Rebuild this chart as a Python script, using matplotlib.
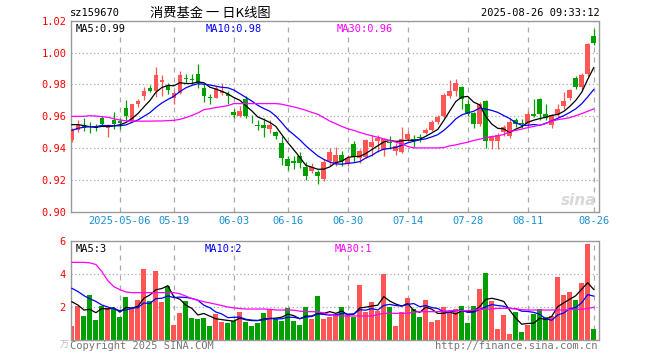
import matplotlib
matplotlib.use('Agg')
import matplotlib.pyplot as plt
import numpy as np

# daily K line of sz159670, 2025-04-21 .. 2025-08-26
opens = [0.945, 0.9516, 0.9543, 0.953, 0.954, 0.959, 0.953, 0.958, 0.957, 0.965,
         0.957, 0.968, 0.9728, 0.978, 0.976, 0.9817, 0.9796, 0.9712, 0.9747, 0.9838,
         0.9835, 0.9865, 0.978, 0.9722, 0.9718, 0.9745, 0.974, 0.963, 0.960, 0.971,
         0.9603, 0.9545, 0.9543, 0.9522, 0.950, 0.943, 0.9333, 0.9318, 0.9354, 0.928,
         0.9255, 0.9254, 0.9207, 0.9318, 0.9305, 0.936, 0.930, 0.9428, 0.934, 0.9347,
         0.941, 0.9444, 0.939, 0.944, 0.938, 0.9375, 0.9459, 0.9455, 0.9472, 0.9495,
         0.9512, 0.9564, 0.960, 0.9726, 0.976, 0.9785, 0.9676, 0.962, 0.955, 0.9697,
         0.9444, 0.9444, 0.950, 0.9474, 0.958, 0.9557, 0.955, 0.9617, 0.9706, 0.9613,
         0.9543, 0.9606, 0.9663, 0.9712, 0.9838, 0.9785, 0.9865, 1.0105]
highs = [0.953, 0.958, 0.959, 0.9564, 0.955, 0.960, 0.955, 0.963, 0.959, 0.970,
         0.968, 0.971, 0.9785, 0.9795, 0.991, 0.986, 0.981, 0.976, 0.9886, 0.9865,
         0.9865, 0.993, 0.980, 0.9743, 0.979, 0.981, 0.976, 0.9645, 0.9663, 0.973,
         0.961, 0.9575, 0.959, 0.9575, 0.951, 0.9474, 0.9354, 0.9354, 0.9375, 0.9311,
         0.931, 0.9263, 0.9335, 0.940, 0.941, 0.938, 0.9355, 0.9443, 0.9395, 0.946,
         0.948, 0.948, 0.9466, 0.9475, 0.943, 0.9533, 0.951, 0.9486, 0.949, 0.953,
         0.958, 0.961, 0.9745, 0.9827, 0.9835, 0.979, 0.970, 0.963, 0.969, 0.970,
         0.948, 0.9496, 0.9545, 0.9592, 0.9592, 0.9585, 0.9634, 0.9706, 0.9712, 0.968,
         0.9615, 0.9675, 0.9754, 0.977, 0.985, 0.987, 1.0063, 1.0148]
lows = [0.944, 0.950, 0.951, 0.9495, 0.951, 0.954, 0.947, 0.952, 0.952, 0.9575,
        0.957, 0.966, 0.970, 0.9755, 0.972, 0.973, 0.974, 0.9676, 0.9743, 0.9807,
        0.980, 0.9775, 0.969, 0.9676, 0.9712, 0.9733, 0.968, 0.959, 0.9594, 0.959,
        0.9557, 0.9516, 0.947, 0.9495, 0.9455, 0.9297, 0.9263, 0.927, 0.9276, 0.920,
        0.9245, 0.9175, 0.9196, 0.929, 0.929, 0.929, 0.929, 0.9315, 0.931, 0.934,
        0.9354, 0.9375, 0.935, 0.9395, 0.9355, 0.9368, 0.9445, 0.941, 0.944, 0.949,
        0.951, 0.955, 0.959, 0.9715, 0.973, 0.9643, 0.960, 0.953, 0.954, 0.940,
        0.9396, 0.9396, 0.9475, 0.9462, 0.9533, 0.9527, 0.9535, 0.9595, 0.958, 0.9575,
        0.9527, 0.9595, 0.9649, 0.970, 0.977, 0.976, 0.985, 1.005]
closes = [0.952, 0.9548, 0.953, 0.9525, 0.953, 0.955, 0.9545, 0.955, 0.956, 0.960,
          0.9676, 0.9697, 0.976, 0.976, 0.986, 0.9827, 0.9764, 0.9747, 0.9859, 0.9832,
          0.983, 0.981, 0.9726, 0.9715, 0.9775, 0.976, 0.973, 0.961, 0.9632, 0.960,
          0.960, 0.954, 0.9526, 0.9543, 0.9474, 0.934, 0.929, 0.9305, 0.9305, 0.9227,
          0.928, 0.9223, 0.9311, 0.9375, 0.936, 0.9322, 0.934, 0.9343, 0.938, 0.9449,
          0.9442, 0.9466, 0.9459, 0.943, 0.9417, 0.9459, 0.949, 0.945, 0.9462, 0.9516,
          0.9564, 0.9596, 0.9733, 0.976, 0.981, 0.9706, 0.9617, 0.955, 0.9676, 0.9444,
          0.9474, 0.948, 0.9533, 0.9564, 0.955, 0.9549, 0.9617, 0.960, 0.9613, 0.9592,
          0.9606, 0.9649, 0.9697, 0.9764, 0.9785, 0.9859, 1.0055, 1.006]

ma5 = [0.9548, 0.9548, 0.9542, 0.9535, 0.9531, 0.9537, 0.9536, 0.954, 0.9547, 0.9561,
       0.9586, 0.9617, 0.9659, 0.9699, 0.9751, 0.9781, 0.9794, 0.9792, 0.9811, 0.9806,
       0.9806, 0.9816, 0.9811, 0.9783, 0.9771, 0.9757, 0.9741, 0.9718, 0.9701, 0.9666,
       0.9634, 0.9596, 0.958, 0.9562, 0.9537, 0.9485, 0.9435, 0.939, 0.9343, 0.9293,
       0.9281, 0.9268, 0.9269, 0.9283, 0.931, 0.9318, 0.9342, 0.9348, 0.9349, 0.9367,
       0.9391, 0.9416, 0.9439, 0.9449, 0.9443, 0.9446, 0.9451, 0.9449, 0.9456, 0.9475,
       0.9496, 0.9518, 0.9574, 0.9634, 0.9693, 0.9721, 0.9725, 0.9689, 0.9672, 0.9599,
       0.9552, 0.9525, 0.9521, 0.9499, 0.952, 0.9535, 0.9563, 0.9576, 0.9586, 0.9594,
       0.9606, 0.9612, 0.9631, 0.9662, 0.970, 0.9751, 0.9832, 0.9905]
ma10 = [0.9512, 0.9525, 0.9532, 0.9535, 0.9535, 0.9543, 0.9542, 0.9541, 0.9541, 0.9546,
        0.9562, 0.9577, 0.960, 0.9623, 0.9656, 0.9684, 0.9706, 0.9726, 0.9755, 0.9779,
        0.9794, 0.9805, 0.9802, 0.9797, 0.9789, 0.9782, 0.9779, 0.9765, 0.9742, 0.9719,
        0.9696, 0.9669, 0.9649, 0.9632, 0.9602, 0.956, 0.9516, 0.9485, 0.9453, 0.9415,
        0.9383, 0.9352, 0.933, 0.9313, 0.9302, 0.930, 0.9305, 0.9309, 0.9316, 0.9339,
        0.9355, 0.9379, 0.9394, 0.9399, 0.9405, 0.9419, 0.9434, 0.9444, 0.9453, 0.9459,
        0.9471, 0.9485, 0.9512, 0.9545, 0.9584, 0.9609, 0.9622, 0.9632, 0.9653, 0.9646,
        0.9637, 0.9625, 0.9605, 0.9586, 0.956, 0.9544, 0.9544, 0.9549, 0.9543, 0.9557,
        0.9571, 0.9588, 0.9604, 0.9624, 0.9647, 0.9679, 0.9722, 0.9768]
ma30 = [0.960, 0.960, 0.960, 0.9604, 0.9602, 0.9598, 0.9594, 0.9585, 0.9577, 0.9572,
        0.957, 0.957, 0.957, 0.957, 0.9571, 0.9571, 0.9573, 0.9575, 0.9581, 0.9592,
        0.9606, 0.9621, 0.9642, 0.9648, 0.9655, 0.9661, 0.9667, 0.968, 0.968, 0.968,
        0.968, 0.968, 0.968, 0.968, 0.968, 0.9676, 0.9667, 0.9659, 0.9649, 0.9638,
        0.9625, 0.9613, 0.9592, 0.957, 0.9554, 0.9537, 0.9522, 0.9512, 0.9499, 0.9488,
        0.9478, 0.9469, 0.9459, 0.9449, 0.9438, 0.9428, 0.9411, 0.9402, 0.9402, 0.9402,
        0.9402, 0.9402, 0.9404, 0.9415, 0.9421, 0.943, 0.9438, 0.9449, 0.9457, 0.9466,
        0.9472, 0.9478, 0.9486, 0.9505, 0.9512, 0.952, 0.9529, 0.9537, 0.9545, 0.9554,
        0.957, 0.9579, 0.9585, 0.9592, 0.9604, 0.9617, 0.9632, 0.9646]

volumes = [0.86, 2.07, 1.47, 2.74, 1.23, 2.07, 1.93, 1.87, 1.39, 2.64,
           1.93, 2.44, 4.29, 2.39, 4.19, 2.33, 3.28, 0.92, 1.67, 2.39,
           1.37, 1.29, 1.37, 0.86, 1.59, 1.12, 1.06, 1.18, 1.73, 1.12,
           0.86, 1.06, 1.67, 1.83, 1.27, 1.18, 1.97, 1.18, 0.92, 2.03,
           1.27, 2.68, 1.27, 1.39, 1.53, 1.99, 1.53, 1.43, 3.34, 1.73,
           2.33, 1.79, 4.0, 1.99, 0.86, 1.73, 2.54, 1.87, 1.43, 2.44,
           1.12, 1.23, 1.99, 1.7, 1.9, 2.07, 1.06, 2.07, 3.08, 4.09,
           2.39, 0.68, 1.53, 0.38, 1.73, 0.52, 0.92, 1.59, 1.87, 1.39,
           1.47, 3.84, 2.74, 2.94, 2.44, 3.48, 5.82, 0.68]
vol_ma5 = [2.33, 2.13, 1.83, 1.87, 1.67, 1.92, 1.89, 1.97, 1.70, 1.98,
           1.95, 2.05, 2.54, 2.74, 3.05, 3.13, 3.30, 2.62, 2.48, 2.12,
           1.93, 1.53, 1.62, 1.46, 1.30, 1.25, 1.20, 1.16, 1.34, 1.24,
           1.19, 1.19, 1.29, 1.31, 1.34, 1.40, 1.58, 1.49, 1.30, 1.46,
           1.47, 1.62, 1.63, 1.73, 1.63, 1.77, 1.54, 1.57, 1.96, 2.00,
           2.07, 2.12, 2.64, 2.37, 2.19, 2.07, 2.22, 1.80, 1.69, 2.00,
           1.88, 1.62, 1.64, 1.70, 1.59, 1.78, 1.74, 1.76, 2.04, 2.47,
           2.54, 2.46, 2.35, 1.81, 1.34, 0.97, 1.02, 1.03, 1.33, 1.26,
           1.45, 2.03, 2.26, 2.48, 2.69, 3.09, 3.48, 3.07]
vol_ma10 = [3.14, 2.95, 2.70, 2.50, 2.35, 2.13, 2.01, 1.90, 1.79, 1.83,
            1.94, 1.97, 2.26, 2.22, 2.52, 2.54, 2.68, 2.58, 2.61, 2.59,
            2.53, 2.42, 2.12, 1.97, 1.71, 1.59, 1.37, 1.39, 1.40, 1.27,
            1.22, 1.20, 1.23, 1.33, 1.29, 1.30, 1.39, 1.39, 1.31, 1.40,
            1.44, 1.60, 1.56, 1.52, 1.55, 1.62, 1.58, 1.60, 1.85, 1.82,
            1.92, 1.83, 2.11, 2.17, 2.10, 2.07, 2.17, 2.22, 2.03, 2.10,
            1.98, 1.92, 1.72, 1.70, 1.80, 1.83, 1.68, 1.70, 1.87, 2.03,
            2.16, 2.10, 2.06, 1.93, 1.91, 1.76, 1.74, 1.69, 1.57, 1.30,
            1.21, 1.53, 1.65, 1.91, 1.98, 2.27, 2.76, 2.67]
vol_ma30 = [4.71, 4.71, 4.71, 4.68, 4.58, 4.15, 3.60, 3.24, 3.06, 2.92,
            2.88, 2.88, 2.88, 2.88, 2.88, 2.88, 2.88, 2.88, 2.81, 2.67,
            2.52, 2.42, 2.33, 2.26, 2.18, 2.10, 2.01, 1.96, 1.92, 1.89,
            1.89, 1.89, 1.89, 1.87, 1.83, 1.83, 1.83, 1.82, 1.76, 1.73,
            1.73, 1.72, 1.65, 1.55, 1.50, 1.47, 1.47, 1.47, 1.47, 1.47,
            1.47, 1.55, 1.63, 1.63, 1.63, 1.63, 1.63, 1.70, 1.73, 1.73,
            1.73, 1.73, 1.76, 1.79, 1.79, 1.79, 1.79, 1.83, 1.87, 1.87,
            1.90, 1.93, 1.93, 1.93, 1.90, 1.85, 1.83, 1.83, 1.83, 1.83,
            1.83, 1.83, 1.83, 1.86, 1.87, 1.87, 1.93, 1.99]

tick_pos = [8, 17, 27, 36, 46, 56, 66, 76, 87]
tick_labels = ['2025-05-06', '05-19', '06-03', '06-16', '06-30', '07-14', '07-28', '08-11', '08-26']
price_ticks = [0.90, 0.92, 0.94, 0.96, 0.98, 1.00, 1.02]
vol_ticks = [2, 4, 6]

RED = '#ff5555'
GREEN = '#00a000'
GRID = '#aaaaaa'
MONO = 'DejaVu Sans Mono'
CJK = ['Noto Sans CJK SC', 'DejaVu Sans']

W, H = 660, 360


def px(x, y):
    return x / W, 1 - y / H


def frame(ax):
    for s in ax.spines.values():
        s.set_color('#999999')
        s.set_linewidth(1.0)
    ax.tick_params(length=0)
    for p in tick_pos:
        ax.axvline(p, color=GRID, lw=0.9, dashes=(4, 4), zorder=0)


fig = plt.figure(figsize=(6.6, 3.6), dpi=100)
x = np.arange(len(closes))
colors = [RED if c >= o else GREEN for o, c in zip(opens, closes)]

# price panel
ax = fig.add_axes([70.7 / W, 1 - 212 / H, (598.5 - 70.7) / W, (212 - 20.7) / H])
frame(ax)
ax.vlines(x, lows, highs, colors=colors, lw=0.9, zorder=2)
body = [max(abs(c - o), 0.0005) for o, c in zip(opens, closes)]
ax.bar(x, body, bottom=np.minimum(opens, closes), width=0.78, color=colors, zorder=3)
ax.plot(x, ma5, color='black', lw=0.9, zorder=4)
ax.plot(x, ma10, color='blue', lw=0.9, zorder=4)
ax.plot(x, ma30, color='#ff00ff', lw=0.9, zorder=4)
ax.set_xlim(-0.2, 87.8)
ax.set_ylim(0.90, 1.02)
for t in price_ticks[1:-1]:
    ax.axhline(t, color=GRID, lw=0.9, ls=(0, (1, 2)), zorder=0)
ax.set_yticks(price_ticks)
ax.set_yticklabels(['%.2f' % t for t in price_ticks], color='red', fontsize=7.5, family=MONO)
ax.set_xticks(tick_pos)
ax.set_xticklabels(tick_labels, color='#1a8fd0', fontsize=7.5, family=MONO)
ax.tick_params(axis='x', pad=3)
ax.tick_params(axis='y', pad=3)
ax.text(0.01, 0.985, 'MA5:%.2f' % ma5[-1], transform=ax.transAxes, va='top', fontsize=7.5, family=MONO, color='black')
ax.text(0.256, 0.985, 'MA10:%.2f' % ma10[-1], transform=ax.transAxes, va='top', fontsize=7.5, family=MONO, color='blue')
ax.text(0.504, 0.985, 'MA30:%.2f' % ma30[-1], transform=ax.transAxes, va='top', fontsize=7.5, family=MONO, color='#ff00ff')
ax.text(84.5, 0.9045, 'sina', fontsize=11, color='#d8d8d8', style='italic', weight='bold', ha='center', zorder=1)

# volume panel
av = fig.add_axes([70.7 / W, 1 - 340.3 / H, (598.5 - 70.7) / W, (340.3 - 241) / H])
frame(av)
av.bar(x, volumes, width=0.85, color=colors, zorder=2)
av.plot(x, vol_ma5, color='black', lw=0.9, zorder=4)
av.plot(x, vol_ma10, color='blue', lw=0.9, zorder=4)
av.plot(x, vol_ma30, color='#ff00ff', lw=0.9, zorder=4)
av.set_xlim(-0.2, 87.8)
av.set_ylim(0, 6)
for t in vol_ticks[:-1]:
    av.axhline(t, color=GRID, lw=0.9, ls=(0, (1, 2)), zorder=0)
av.set_yticks(vol_ticks)
av.set_yticklabels([str(t) for t in vol_ticks], color='red', fontsize=7.5, family=MONO)
av.set_xticks([])
av.text(0.01, 0.97, 'MA5:%d' % int(vol_ma5[-1]), transform=av.transAxes, va='top', fontsize=7.5, family=MONO, color='black')
av.text(0.254, 0.97, 'MA10:%d' % int(vol_ma10[-1]), transform=av.transAxes, va='top', fontsize=7.5, family=MONO, color='blue')
av.text(0.5, 0.97, 'MA30:%d' % int(vol_ma30[-1]), transform=av.transAxes, va='top', fontsize=7.5, family=MONO, color='#ff00ff')

# header and footer
fig.text(*px(70, 13), 'sz159670', fontsize=7.5, family=MONO, va='center')
fig.text(*px(150, 13), '消费基金 一 日K线图', fontsize=9.5, family=CJK, va='center')
fig.text(*px(600, 13), '2025-08-26 09:33:12', fontsize=7.5, family=MONO, va='center', ha='right')
fig.text(*px(60, 345), '万', fontsize=6.5, family=CJK, va='center', color='#bbbbbb')
fig.text(*px(70, 346), 'Copyright 2025 SINA.COM', fontsize=7.5, family=MONO, va='center', color='#777777')
fig.text(*px(598, 346), 'http://finance.sina.com.cn', fontsize=7.5, family=MONO, va='center', ha='right', color='#777777')

plt.savefig('out.png', dpi=100, facecolor='white')
